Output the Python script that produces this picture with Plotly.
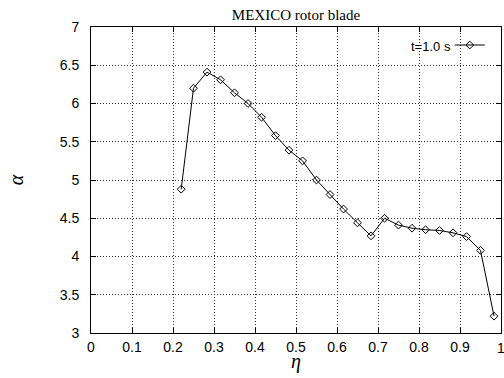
import plotly.graph_objects as go

eta = [0.220, 0.250, 0.283, 0.316, 0.350, 0.383, 0.416, 0.450, 0.483, 0.516,
       0.550, 0.583, 0.616, 0.650, 0.683, 0.716, 0.750, 0.783, 0.816, 0.850,
       0.883, 0.916, 0.950, 0.983]
alpha = [4.88, 6.20, 6.41, 6.31, 6.14, 6.00, 5.82, 5.58, 5.39, 5.25,
         5.00, 4.81, 4.62, 4.44, 4.27, 4.50, 4.41, 4.37, 4.35, 4.34,
         4.31, 4.26, 4.08, 3.22]
x_ticks = [0, 0.1, 0.2, 0.3, 0.4, 0.5, 0.6, 0.7, 0.8, 0.9, 1]
x_ticklabels = ["0", "0.1", "0.2", "0.3", "0.4", "0.5", "0.6", "0.7", "0.8", "0.9", "1"]
series_name = "t=1.0 s"
title_text = "MEXICO rotor blade"

fig = go.Figure()
fig.add_trace(go.Scatter(
    x=eta, y=alpha, mode="lines+markers", name=" ",
    line=dict(color="black", width=1),
    marker=dict(symbol="diamond-open", size=6, color="black", line=dict(width=1)),
    showlegend=True,
))

tick_font = dict(family="Liberation Sans", size=14, color="black")
axis_common = dict(
    showline=True, linecolor="black", linewidth=1, mirror="ticks",
    ticks="inside", ticklen=5, tickcolor="black",
    showgrid=True, gridcolor="#333", griddash="1px,2px", gridwidth=1,
    zeroline=False, ticklabeloverflow="allow", automargin=False,
    tickfont=tick_font,
)

# The last x tick label sits at the very edge of the page; Plotly drops it,
# so it is written as an annotation at the axis value instead.
shown_ticktext = x_ticklabels[:-1] + [""]

fig.update_layout(
    width=504, height=378,
    margin=dict(l=91, r=3, t=27, b=45),
    paper_bgcolor="white", plot_bgcolor="white",
    title=dict(text=title_text, x=0.5, xref="paper", y=0.975, yref="container",
               xanchor="center", yanchor="top",
               font=dict(family="Liberation Serif", size=15, color="black")),
    xaxis=dict(range=[0, 1.0], tickmode="array", tickvals=x_ticks, ticktext=shown_ticktext,
               ticklabelstandoff=1, **axis_common),
    yaxis=dict(range=[3, 7], dtick=0.5, tick0=3,
               title=dict(text="α", standoff=30,
                          font=dict(family="Liberation Serif", size=20, color="black", style="italic")),
               ticklabelstandoff=8, **axis_common),
    legend=dict(x=0.875, y=0.99, xanchor="left", yanchor="top",
                bgcolor="rgba(0,0,0,0)", borderwidth=0,
                font=dict(family="Liberation Sans", size=13, color="black")),
    annotations=[
        dict(text=series_name, xref="paper", yref="paper",
             x=0.882, y=0.935, xanchor="right", yanchor="middle",
             showarrow=False,
             font=dict(family="Liberation Sans", size=13, color="black")),
        dict(text="η", xref="paper", yref="paper", x=0.5, y=0,
             xanchor="center", yanchor="top", yshift=-15, showarrow=False,
             font=dict(family="Liberation Serif", size=20, color="black", style="italic")),
        dict(text=x_ticklabels[-1], xref="x", yref="paper", x=x_ticks[-1], y=0,
             xanchor="center", yanchor="top", yshift=-5, showarrow=False,
             font=tick_font),
    ],
    showlegend=True,
)

fig.write_html("out.html")
